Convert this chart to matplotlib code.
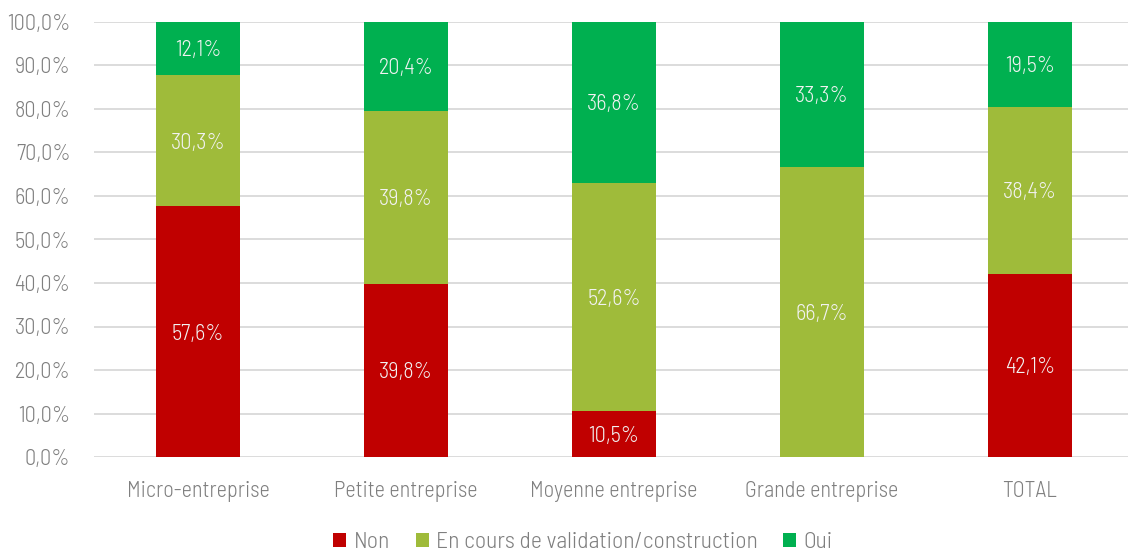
import matplotlib
matplotlib.use("Agg")
import matplotlib.pyplot as plt
import numpy as np
from matplotlib.ticker import FuncFormatter

plt.rcParams["font.family"] = ["Barlow Semi Condensed", "DejaVu Sans"]
plt.rcParams["font.weight"] = 300

categories = ["Micro-entreprise", "Petite entreprise", "Moyenne entreprise",
              "Grande entreprise", "TOTAL"]
non = [57.6, 39.8, 10.5, 0.0, 42.1]
en_cours = [30.3, 39.8, 52.6, 66.7, 38.4]
oui = [12.1, 20.4, 36.8, 33.3, 19.5]

series = [("Non", non, "#C00000"),
          ("En cours de validation/construction", en_cours, "#9FBB3A"),
          ("Oui", oui, "#00B050")]

grey = "#7F7F7F"
fs = 16

fig = plt.figure(figsize=(11.28, 5.59), dpi=100)
ax = fig.add_axes([94 / 1128, 1 - 457 / 559, 1040 / 1128, 435 / 559])

x = np.arange(len(categories))
bottom = np.zeros(len(categories))
for name, vals, col in series:
    vals = np.array(vals)
    ax.bar(x, vals, 0.4, bottom=bottom, color=col, label=name, zorder=2)
    for xi, b, v in zip(x, bottom, vals):
        if v > 0:
            ax.text(xi, b + v / 2, f"{v:.1f}%".replace(".", ","),
                    ha="center", va="center_baseline", color="#F2F2F2",
                    fontsize=fs, zorder=3)
    bottom += vals

ax.set_xlim(-0.5, 4.5)
ax.set_ylim(0, 100)
ax.set_yticks(np.arange(0, 101, 10))
ax.yaxis.set_major_formatter(FuncFormatter(lambda v, p: f"{v:.1f}%".replace(".", ",")))
ax.set_xticks(x)
ax.set_xticklabels(categories)
ax.tick_params(axis="both", length=0, colors=grey, labelsize=fs)
ax.tick_params(axis="x", pad=17)
ax.tick_params(axis="y", pad=17)
ax.grid(axis="y", color="#D9D9D9", linewidth=1.3, zorder=0)
for s in ax.spines.values():
    s.set_visible(False)

leg = fig.legend(loc="center", bbox_to_anchor=(583 / 1128, 1 - 543 / 559), ncol=3,
                 frameon=False, fontsize=17, handlelength=0.55, handleheight=0.55,
                 handletextpad=0.3, columnspacing=1.1)
for t in leg.get_texts():
    t.set_color(grey)

fig.savefig("out.png", dpi=100)
